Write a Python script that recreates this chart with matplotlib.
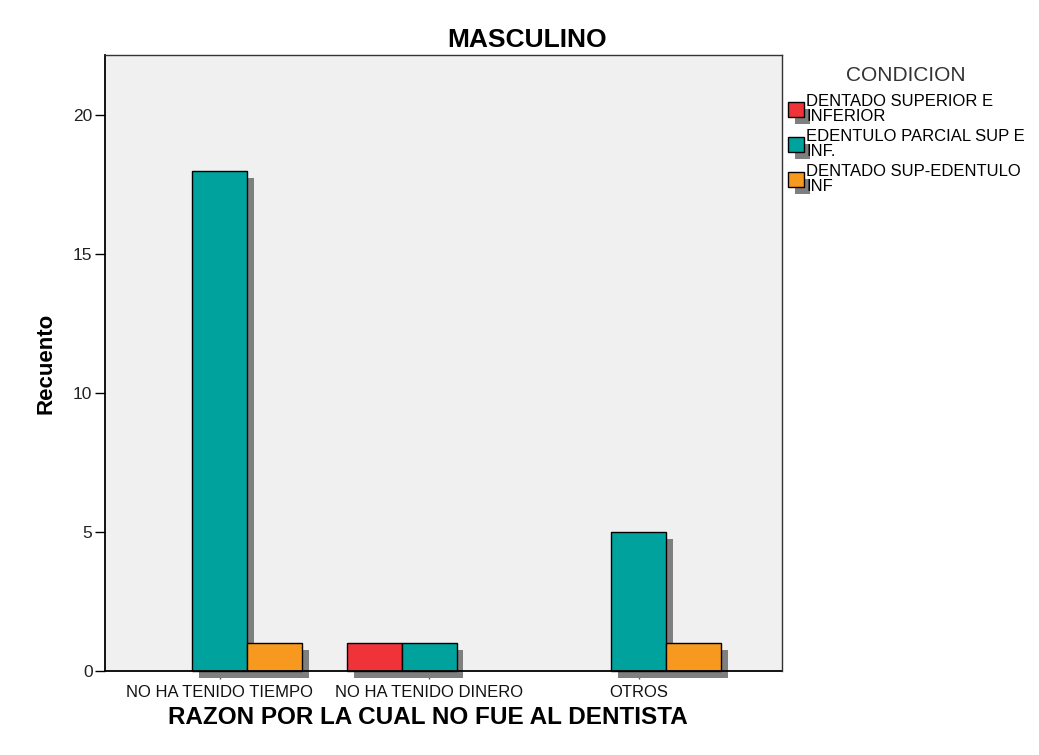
import matplotlib
matplotlib.use("Agg")
import matplotlib.pyplot as plt
import matplotlib.patheffects as pe
from matplotlib.patches import Patch
import numpy as np

plt.rcParams['font.family'] = ['Liberation Sans', 'DejaVu Sans']

categories = ["NO HA TENIDO TIEMPO", "NO HA TENIDO DINERO", "OTROS"]
series_names = ["DENTADO SUPERIOR E\nINFERIOR", "EDENTULO PARCIAL SUP E\nINF.", "DENTADO SUP-EDENTULO\nINF"]
dentado = [0, 1, 0]
edentulo_parcial = [18, 1, 5]
dentado_sup_edentulo_inf = [1, 0, 1]
series_values = [dentado, edentulo_parcial, dentado_sup_edentulo_inf]
colors = ["#EF3339", "#00A29D", "#F7991E"]
yticks = [0, 5, 10, 15, 20]

fig = plt.figure(figsize=(10.39, 7.55), dpi=100)
fig.patch.set_facecolor('white')
ax = fig.add_axes([105/1039, (755-671)/755, 677/1039, 616/755])
ax.set_facecolor('#F0F0F0')

shadow = [pe.SimplePatchShadow(offset=(5, -5), shadow_rgbFace='#7F7F7F', alpha=1.0), pe.Normal()]

w = 0.2625
x = np.arange(len(categories))
offsets = [-w, 0, w]
for vals, off, col in zip(series_values, offsets, colors):
    xs = [xi + off for xi, v in zip(x, vals) if v > 0]
    hs = [v for v in vals if v > 0]
    bars = ax.bar(xs, hs, width=w, color=col, edgecolor='black', linewidth=1.0, zorder=2)
    for b in bars:
        b.set_path_effects(shadow)
        b.set_clip_on(False)

ax.set_xlim(-0.547, 2.685)
ax.set_ylim(0, 22.16)
ax.set_yticks(yticks)
ax.set_yticklabels([str(t) for t in yticks], fontsize=12.5, color='#222222')
ax.set_xticks(x)
ax.set_xticklabels(categories, fontsize=12, color='#111111')
ax.tick_params(axis='y', direction='out', length=7, width=1, pad=2)
ax.tick_params(axis='x', direction='out', length=6, width=1, pad=4, color='#555555')
for s in ['left', 'bottom']:
    ax.spines[s].set_linewidth(1.3)
    ax.spines[s].set_color('black')
for s in ['top', 'right']:
    ax.spines[s].set_linewidth(1.0)
    ax.spines[s].set_color('#333333')
    ax.spines[s].set_zorder(3)

ax.set_ylabel("Recuento", fontsize=16, fontweight='bold', labelpad=12)
ax.set_xlabel("RAZON POR LA CUAL NO FUE AL DENTISTA", fontsize=17.5, fontweight='bold')
ax.xaxis.set_label_coords((428 - 105) / 677, -(718 - 671) / 616)
ax.xaxis.label.set_va('center')
fig.text(527/1039, 1 - 40/755, "MASCULINO", fontsize=19, fontweight='bold', ha='center', va='center')

handles = [Patch(facecolor=c, edgecolor='black', linewidth=1.0,
                 path_effects=[pe.SimplePatchShadow(offset=(5, -5), shadow_rgbFace='#7F7F7F', alpha=1.0), pe.Normal()])
           for c in colors]
leg = fig.legend(handles, series_names, loc='upper left', bbox_to_anchor=(786/1039, 1 - 64/755),
                 frameon=False, fontsize=12, title="CONDICION", title_fontsize=15,
                 handlelength=0.95, handleheight=0.95, handletextpad=0.15, labelspacing=0.3,
                 borderpad=0.1, borderaxespad=0)
leg.get_title().set_color('#333333')
for t in leg.get_texts():
    t.set_linespacing(1.0)
leg._legend_box.sep = 7

fig.savefig("out.png", dpi=100)
